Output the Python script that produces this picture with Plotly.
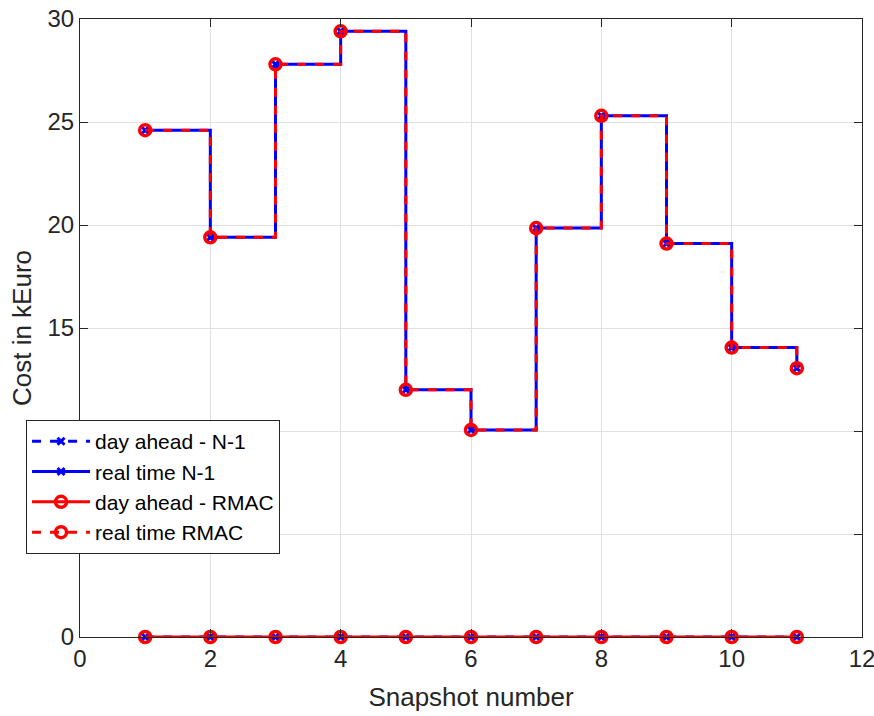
import plotly.graph_objects as go

snapshots = [1, 2, 3, 4, 5, 6, 7, 8, 9, 10, 11]
day_ahead_n1 = [0, 0, 0, 0, 0, 0, 0, 0, 0, 0, 0]
real_time_n1 = [24.6, 19.4, 27.8, 29.4, 12.0, 10.05, 19.85, 25.3, 19.1, 14.05, 13.05]
day_ahead_rmac = [0, 0, 0, 0, 0, 0, 0, 0, 0, 0, 0]
real_time_rmac = [24.6, 19.4, 27.8, 29.4, 12.0, 10.05, 19.85, 25.3, 19.1, 14.05, 13.05]

x_ticks = [0, 2, 4, 6, 8, 10, 12]
y_ticks = [0, 5, 10, 15, 20, 25, 30]

BLUE = "#0000FF"
RED = "#FF0000"
FONT = "Liberation Sans, Arial, sans-serif"
TXT = "#262626"

fig = go.Figure()

fig.add_trace(go.Scatter(
    x=snapshots, y=day_ahead_n1, name="day ahead - N-1",
    mode="lines+markers", line=dict(color=BLUE, width=3, dash="9px,9px", shape="hv"),
    marker=dict(symbol="x-thin-open", size=7, line=dict(color=BLUE, width=3)),
    cliponaxis=False))
fig.add_trace(go.Scatter(
    x=snapshots, y=real_time_n1, name="real time N-1",
    mode="lines+markers", line=dict(color=BLUE, width=3, shape="hv"),
    marker=dict(symbol="x-thin-open", size=7, line=dict(color=BLUE, width=3)),
    cliponaxis=False))
fig.add_trace(go.Scatter(
    x=snapshots, y=day_ahead_rmac, name="day ahead - RMAC",
    mode="lines+markers", line=dict(color=RED, width=3, shape="hv"),
    marker=dict(symbol="circle-open", size=11, line=dict(color=RED, width=3.5)),
    cliponaxis=False))
fig.add_trace(go.Scatter(
    x=snapshots, y=real_time_rmac, name="real time RMAC",
    mode="lines+markers", line=dict(color=RED, width=3, dash="9px,9px", shape="hv"),
    marker=dict(symbol="circle-open", size=11, line=dict(color=RED, width=3.5)),
    cliponaxis=False))

axis_common = dict(
    showgrid=True, gridcolor="#E0E0E0", gridwidth=1,
    showline=True, linecolor="#262626", linewidth=1, mirror="ticks",
    ticks="inside", ticklen=8, tickcolor="#262626", tickwidth=1,
    zeroline=False, automargin=False, ticklabeloverflow="allow",
    tickfont=dict(family=FONT, size=24, color=TXT),
)

fig.update_layout(
    width=874, height=716,
    margin=dict(l=80, r=12, t=19, b=79),
    plot_bgcolor="white", paper_bgcolor="white",
    font=dict(family=FONT, color=TXT),
    xaxis=dict(range=[0, 12], tickvals=x_ticks,
               title=dict(text="Snapshot number", font=dict(family=FONT, size=26, color=TXT), standoff=17),
               **axis_common),
    yaxis=dict(range=[0, 30], tickvals=y_ticks,
               title=dict(text="Cost in kEuro", font=dict(family=FONT, size=26, color=TXT), standoff=8),
               **axis_common),
    legend=dict(x=-0.069, y=0.351, xanchor="left", yanchor="top",
                bgcolor="white", bordercolor="#262626", borderwidth=1,
                font=dict(family=FONT, size=21, color="black"),
                itemwidth=58, tracegroupgap=0),
    showlegend=True,
)

fig.write_html("out.html")
